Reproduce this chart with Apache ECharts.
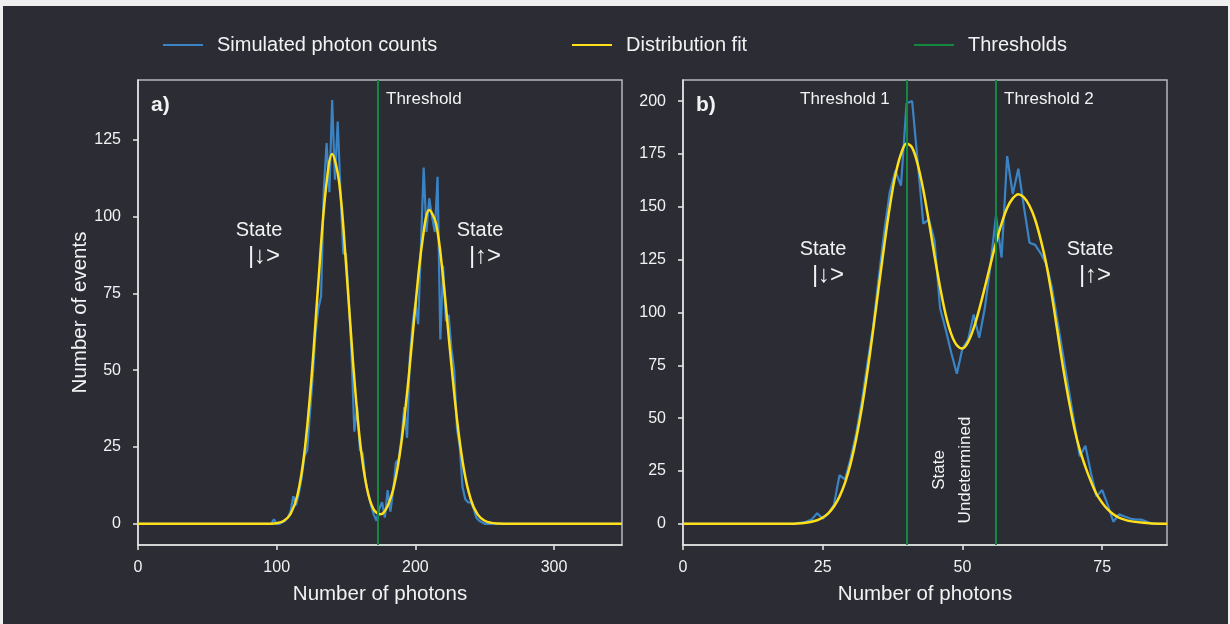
<!DOCTYPE html>
<html>
<head>
<meta charset="utf-8">
<script src="https://cdn.jsdelivr.net/npm/echarts@6/dist/echarts.min.js"></script>
<style>
  html, body {
    margin: 0;
    padding: 0;
    background: #efefef;
  }
  #chart {
    position: absolute;
    left: 3px;
    top: 6px;
    width: 1225px;
    height: 618px;
    background: #2b2c34;
  }
</style>
</head>
<body>
<div id="chart"></div>
<script>
// panel a) simulated counts, 2-photon bins
const countsAX = [0, 94, 96, 98, 100, 102, 104, 106, 108, 110, 112, 114, 116, 118, 120, 122, 124, 126, 128, 130,
  132, 134, 136, 138, 140, 142, 144, 146, 148, 150, 152, 154, 156, 158, 160, 162, 164, 166, 168, 170,
  172, 174, 176, 178, 180, 182, 184, 186, 188, 190, 192, 194, 196, 198, 200, 202, 204, 206, 208, 210,
  212, 214, 216, 218, 220, 222, 224, 226, 228, 230, 232, 234, 236, 238, 240, 242, 244, 246, 248, 250, 252, 349]
const countsAY = [0, 0, 0, 1.5, 0, 0, 0.5, 1, 2, 4, 9, 6, 10, 15, 22, 24, 36, 48, 62, 70,
  74, 109, 124, 108, 138, 112, 131, 108, 88, 88, 73, 55, 30, 38, 24, 23, 14, 10, 6, 3,
  1, 5, 7, 2, 11, 4, 11, 20, 21, 28, 38, 28, 54, 65, 72, 65, 90, 116, 95, 106,
  100, 95, 113, 60, 84, 66, 68, 57, 50, 31, 25, 12, 8, 7, 7, 5, 2, 1, 0.5, 0, 0, 0]

// panel a) fitted distribution
const fitAX = [0, 90, 95, 100, 105, 110, 115, 120, 125, 130, 135, 140, 145, 150, 155, 160, 165, 170, 175,
  180, 185, 190, 195, 200, 205, 210, 215, 220, 225, 230, 235, 240, 245, 250, 255, 260, 265, 349]
const fitAY = [0, 0, 0.04, 0.2, 0.9, 3.2, 9.4, 23.2, 47.0, 78.3, 107.0, 120.4, 111.3, 84.6, 52.9, 27.2, 11.7, 4.6, 3.1,
  5.8, 13.1, 26.7, 46.9, 70.9, 91.8, 102.2, 97.6, 80.1, 56.4, 34.1, 17.7, 7.9, 3.0, 1.0, 0.3, 0.1, 0, 0]

const thresholdsA = [173]

// panel b) simulated counts, 1-photon bins starting at 0
const countsBY = [0, 0, 0, 0, 0, 0, 0, 0, 0, 0, 0, 0, 0, 0, 0, 0, 0, 0, 0, 0,
  0, 0.5, 1, 2, 5, 2.5, 5, 9, 23, 21, 31, 43, 58, 76, 93, 116, 138, 157, 167, 160,
  199, 200, 171, 142, 144, 134, 102, 92, 81, 71, 83, 87, 99, 88, 102, 122, 146, 126, 174, 156,
  168, 150, 133, 132, 128, 123, 112, 96, 80, 64, 48, 32, 37, 24, 13, 16, 9, 1, 4.5, 3.5,
  2.5, 2, 2, 1, 0, 0, 0]

// panel b) fitted distribution
const fitBX = [0, 18, 20, 22, 24, 25, 26, 27, 28, 29, 30, 31, 32, 33, 34, 35, 36, 37, 38, 39,
  40, 41, 42, 43, 44, 45, 46, 47, 48, 49, 50, 51, 52, 53, 54, 55, 56, 57, 58, 59,
  60, 61, 62, 63, 64, 65, 66, 67, 68, 69, 70, 71, 72, 73, 74, 75, 76, 77, 78, 79,
  80, 82, 84, 86, 86.6]
const fitBY = [0, 0, 0.1, 0.5, 1.7, 3.0, 5.0, 8.2, 12.9, 19.5, 28.6, 40.4, 54.9, 72.0, 91.3, 111.5, 131.5, 150, 165, 175,
  180, 178, 170, 158, 143, 127, 112, 99, 89.8, 84.5, 83, 86, 92.5, 101.5, 111.8, 122.6, 133, 142, 149.5, 154,
  156, 154.5, 150.5, 144, 134.5, 123, 108, 91, 74, 59, 45.5, 35, 27, 20, 14, 10, 6.8, 4.5, 3, 2,
  1.3, 0.6, 0.2, 0, 0]

const thresholdsB = [40, 56]

const ticksAX = [0, 100, 200, 300]
const ticksAY = [0, 25, 50, 75, 100, 125]
const ticksBX = [0, 25, 50, 75]
const ticksBY = [0, 25, 50, 75, 100, 125, 150, 175, 200]

const colors = {
  blue: '#3a84c6',
  yellow: '#ffdf1a',
  green: '#13893f',
  text: '#f2f2f2',
  frame: '#b8b8bc',
  axis: '#e8e8e8'
}
const FONT = '"Liberation Sans", Arial, sans-serif'

const pairs = (xs, ys) => xs.map((x, i) => [x, ys[i]])

const makeX = (idx, max, ticks) => ({
  type: 'value',
  gridIndex: idx,
  min: 0,
  max: max,
  name: 'Number of photons',
  nameLocation: 'middle',
  nameGap: 39,
  nameTextStyle: { color: colors.text, fontSize: 20.5, fontFamily: FONT },
  axisLine: { show: true, onZero: false, lineStyle: { color: colors.axis, width: 1.5 } },
  axisTick: { show: true, length: 5, customValues: ticks, lineStyle: { color: colors.axis, width: 1.5 } },
  axisLabel: { customValues: ticks, color: colors.text, fontSize: 16, fontFamily: FONT, margin: 15 },
  splitLine: { show: false }
})

const makeY = (idx, min, max, ticks, name) => ({
  type: 'value',
  gridIndex: idx,
  min: min,
  max: max,
  name: name,
  nameLocation: 'middle',
  nameGap: 46,
  nameTextStyle: { color: colors.text, fontSize: 20.5, fontFamily: FONT },
  axisLine: { show: true, onZero: false, lineStyle: { color: colors.axis, width: 1.5 } },
  axisTick: { show: true, length: 5, customValues: ticks, lineStyle: { color: colors.axis, width: 1.5 } },
  axisLabel: { customValues: ticks, color: colors.text, fontSize: 16, fontFamily: FONT, margin: 17 },
  splitLine: { show: false }
})

const countsSeries = (idx, data) => ({
  name: 'Simulated photon counts',
  type: 'line',
  xAxisIndex: idx,
  yAxisIndex: idx,
  data: data,
  symbol: 'none',
  color: colors.blue,
  lineStyle: { color: colors.blue, width: 2.2 },
  z: 2
})

const thresholdSeries = (idx, values) => ({
  name: 'Thresholds',
  type: 'line',
  xAxisIndex: idx,
  yAxisIndex: idx,
  data: [],
  symbol: 'none',
  color: colors.green,
  lineStyle: { color: colors.green, width: 2 },
  markLine: {
    silent: true,
    symbol: 'none',
    label: { show: false },
    lineStyle: { color: colors.green, width: 2, type: 'solid' },
    data: values.map(v => ({ xAxis: v }))
  },
  z: 3
})

const fitSeries = (idx, data) => ({
  name: 'Distribution fit',
  type: 'line',
  xAxisIndex: idx,
  yAxisIndex: idx,
  data: data,
  symbol: 'none',
  smooth: 0.35,
  color: colors.yellow,
  lineStyle: { color: colors.yellow, width: 2.5 },
  z: 4
})

const txt = (x, y, text, size, extra) => ({
  type: 'text',
  x: x,
  y: y,
  z: 10,
  ...(extra || {}),
  style: {
    text: text,
    fill: colors.text,
    font: (extra && extra.bold ? 'bold ' : '') + size + 'px ' + FONT,
    textAlign: (extra && extra.align) || 'center',
    textVerticalAlign: 'middle',
    lineHeight: extra && extra.lineHeight
  }
})

const legendItem = (left, name) => ({
  left: left,
  top: 24,
  data: [name],
  icon: 'rect',
  itemWidth: 40,
  itemHeight: 2,
  itemGap: 0,
  textStyle: { color: colors.text, fontSize: 20, fontFamily: FONT, padding: [0, 0, 0, 9] }
})

const countsAData = pairs(countsAX, countsAY)
const countsBData = countsBY.map((v, i) => [i, v])

const initCharts = () => {
  const chart = echarts.init(document.getElementById('chart'), null, { renderer: 'canvas' })
  const option = {
    animation: false,
    backgroundColor: '#2b2c34',
    legend: [
      legendItem(155, 'Simulated photon counts'),
      legendItem(564, 'Distribution fit'),
      legendItem(906, 'Thresholds')
    ],
    grid: [
      { left: 135, top: 74, width: 484, height: 465, show: true, borderColor: colors.frame, borderWidth: 1.5, backgroundColor: 'transparent' },
      { left: 680, top: 74, width: 484, height: 465, show: true, borderColor: colors.frame, borderWidth: 1.5, backgroundColor: 'transparent' }
    ],
    xAxis: [
      makeX(0, 349, ticksAX),
      makeX(1, 86.6, ticksBX)
    ],
    yAxis: [
      makeY(0, -6.9, 144.5, ticksAY, 'Number of events'),
      makeY(1, -10, 210, ticksBY, '')
    ],
    series: [
      countsSeries(0, countsAData),
      thresholdSeries(0, thresholdsA),
      fitSeries(0, pairs(fitAX, fitAY)),
      countsSeries(1, countsBData),
      thresholdSeries(1, thresholdsB),
      fitSeries(1, pairs(fitBX, fitBY))
    ],
    graphic: [
      txt(148, 99, 'a)', 21, { bold: true, align: 'left' }),
      txt(693, 99, 'b)', 21, { bold: true, align: 'left' }),
      txt(383, 93, 'Threshold', 17, { align: 'left' }),
      txt(797, 93, 'Threshold 1', 17, { align: 'left' }),
      txt(1001, 93, 'Threshold 2', 17, { align: 'left' }),
      txt(256, 224, 'State', 20),
      txt(261, 250, '|↓>', 24),
      txt(477, 224, 'State', 20),
      txt(482, 250, '|↑>', 24),
      txt(820, 243, 'State', 20),
      txt(825, 269, '|↓>', 24),
      txt(1087, 243, 'State', 20),
      txt(1092, 269, '|↑>', 24),
      txt(949, 464, 'State\nUndetermined', 17, { rotation: Math.PI / 2, lineHeight: 26 })
    ]
  }
  chart.setOption(option)
  window.addEventListener('resize', () => chart.resize())
}

initCharts()
</script>
</body>
</html>
